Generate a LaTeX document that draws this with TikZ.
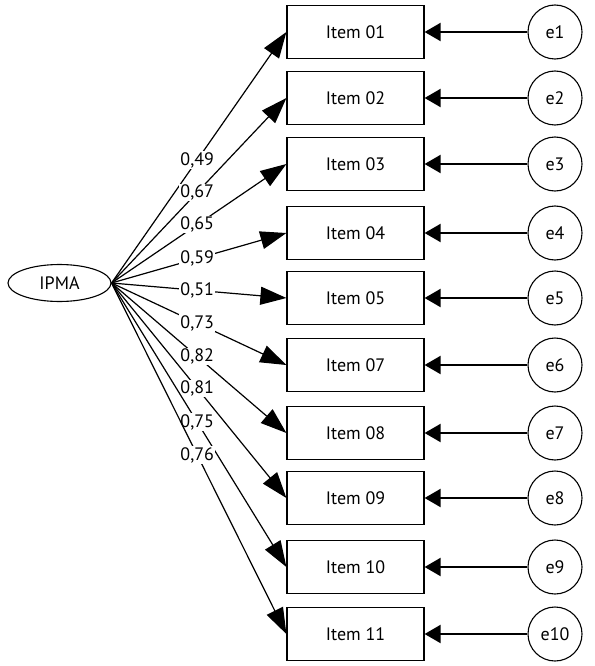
\documentclass[tikz,border=0pt]{standalone}
\usepackage{fontspec}
\setmainfont{PT Sans}
\usetikzlibrary{arrows.meta,shapes.geometric}

\begin{document}
\begin{tikzpicture}[x=1pt, y=-1pt, font=\fontsize{18}{20}\selectfont,
  item/.style={draw, rectangle, minimum width=137pt, minimum height=53pt, inner sep=0pt, line width=1.2pt},
  err/.style={draw, circle, minimum size=54pt, inner sep=0pt, line width=1.1pt},
  lat/.style={draw, ellipse, minimum width=103pt, minimum height=37pt, inner sep=0pt, line width=1.1pt},
  arr/.style={-{Triangle[length=26pt, width=18pt]}, line width=1.2pt},
  earr/.style={-{Triangle[length=16pt, width=18pt]}, line width=2pt},
  load/.style={pos=0.49, fill=white, inner sep=1pt}]
  \useasboundingbox (0,0) rectangle (594,666);

  \node[lat] (F) at (59.5,283) {IPMA};

  \node[item] (I1) at (355.5,32) {Item 01};
  \node[item] (I2) at (355.5,98) {Item 02};
  \node[item] (I3) at (355.5,164) {Item 03};
  \node[item] (I4) at (355.5,233) {Item 04};
  \node[item] (I5) at (355.5,298) {Item 05};
  \node[item] (I7) at (355.5,365) {Item 07};
  \node[item] (I8) at (355.5,433) {Item 08};
  \node[item] (I9) at (355.5,498) {Item 09};
  \node[item] (I10) at (355.5,567) {Item 10};
  \node[item] (I11) at (355.5,634) {Item 11};

  \node[err] (E1) at (555,32) {e1};
  \node[err] (E2) at (555,98) {e2};
  \node[err] (E3) at (555,164) {e3};
  \node[err] (E4) at (555,233) {e4};
  \node[err] (E5) at (555,298) {e5};
  \node[err] (E6) at (555,365) {e6};
  \node[err] (E7) at (555,433) {e7};
  \node[err] (E8) at (555,498) {e8};
  \node[err] (E9) at (555,567) {e9};
  \node[err] (E10) at (555,634) {e10};

  % loadings
  \draw[arr] (F.east) -- (I1.west) node[load] {0,49};
  \draw[arr] (F.east) -- (I2.west) node[load] {0,67};
  \draw[arr] (F.east) -- (I3.west) node[load] {0,65};
  \draw[arr] (F.east) -- (I4.west) node[load] {0,59};
  \draw[arr] (F.east) -- (I5.west) node[load] {0,51};
  \draw[arr] (F.east) -- (I7.west) node[load] {0,73};
  \draw[arr] (F.east) -- (I8.west) node[load] {0,82};
  \draw[arr] (F.east) -- (I9.west) node[load] {0,81};
  \draw[arr] (F.east) -- (I10.west) node[load] {0,75};
  \draw[arr] (F.east) -- (I11.west) node[load] {0,76};

  % errors
  \draw[earr] (E1) -- (I1);
  \draw[earr] (E2) -- (I2);
  \draw[earr] (E3) -- (I3);
  \draw[earr] (E4) -- (I4);
  \draw[earr] (E5) -- (I5);
  \draw[earr] (E6) -- (I7);
  \draw[earr] (E7) -- (I8);
  \draw[earr] (E8) -- (I9);
  \draw[earr] (E9) -- (I10);
  \draw[earr] (E10) -- (I11);
\end{tikzpicture}
\end{document}
